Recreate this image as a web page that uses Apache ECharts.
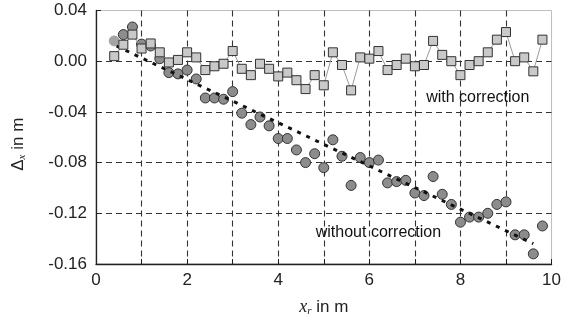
<!DOCTYPE html>
<html>
<head>
<meta charset="utf-8">
<script src="https://cdn.jsdelivr.net/npm/echarts@6/dist/echarts.min.js"></script>
<style>
  html, body { margin: 0; padding: 0; background: #fff; }
  #chart { width: 564px; height: 322px; }
</style>
</head>
<body>
<div id="chart"></div>
<script>
// positions along the rail, x_r in m
const xr = [0.4, 0.6, 0.8, 1.0, 1.2, 1.4, 1.6, 1.8, 2.0, 2.2, 2.4, 2.6, 2.8, 3.0, 3.2, 3.4,
  3.6, 3.8, 4.0, 4.2, 4.4, 4.6, 4.8, 5.0, 5.2, 5.4, 5.6, 5.8, 6.0, 6.2, 6.4, 6.6,
  6.8, 7.0, 7.2, 7.4, 7.6, 7.8, 8.0, 8.2, 8.4, 8.6, 8.8, 9.0, 9.2, 9.4, 9.6, 9.8];

const withCorrection = [0.004, 0.013, 0.021, 0.010, 0.014, 0.007, -0.001, 0.001, 0.007, 0.003,
  -0.007, -0.004, -0.002, 0.008, -0.006, -0.011, -0.002, -0.006, -0.012, -0.009,
  -0.015, -0.022, -0.011, -0.019, 0.007, -0.003, -0.023, 0.003, 0.002, 0.008,
  -0.007, -0.003, 0.002, -0.004, -0.003, 0.016, 0.005, 0.000, -0.011, -0.003,
  0.000, 0.007, 0.017, 0.023, 0.000, 0.003, -0.008, 0.017];

const withoutCorrection = [0.016, 0.021, 0.027, 0.0135, 0.012, 0.002, -0.009, -0.010, -0.007, -0.014,
  -0.029, -0.029, -0.030, -0.024, -0.041, -0.050, -0.044, -0.051, -0.061, -0.061,
  -0.070, -0.080, -0.073, -0.084, -0.062, -0.075, -0.098, -0.076, -0.080, -0.078,
  -0.096, -0.095, -0.094, -0.104, -0.106, -0.091, -0.105, -0.113, -0.127, -0.123,
  -0.123, -0.120, -0.113, -0.111, -0.137, -0.137, -0.152, -0.130];

// dotted trend of the uncorrected error, end points
const trendX = [0.45, 9.6];
const trendY = [0.012, -0.144];

const notes = [
  [8.38, -0.0284, 'with correction'],
  [6.2, -0.135, 'without correction']
];

const font = 'Liberation Sans, Arial, sans-serif';

const chart = echarts.init(document.getElementById('chart'), null, { renderer: 'canvas' });

const circleData = withoutCorrection.map((v, i) => {
  if (i === 0) {
    return { value: [xr[i], v], itemStyle: { color: '#a3a3a3', borderColor: '#a3a3a3' } };
  }
  return [xr[i], v];
});

chart.setOption({
  animation: false,
  grid: {
    left: 96, right: 11, top: 10.5, bottom: 55,
    show: true, borderColor: '#bdbdbd', borderWidth: 1
  },
  xAxis: {
    type: 'value',
    min: 0, max: 10, interval: 1,
    name: '{it|x}{sub|r}{n| in m}',
    nameLocation: 'middle',
    nameGap: 34,
    nameTextStyle: {
      rich: {
        it: { fontFamily: 'Liberation Serif, serif', fontStyle: 'italic', fontSize: 18, color: '#222' },
        sub: { fontFamily: 'Liberation Serif, serif', fontStyle: 'italic', fontSize: 11, color: '#222', padding: [8, 0, 0, 0] },
        n: { fontFamily: font, fontSize: 17, color: '#222' }
      }
    },
    axisLine: { show: true, onZero: false, lineStyle: { color: '#222', width: 1.3 } },
    axisTick: { show: true, inside: true, length: 5, lineStyle: { color: '#222' } },
    axisLabel: {
      fontFamily: font, fontSize: 17, color: '#222', margin: 8,
      formatter: v => (Math.round(v) % 2 === 0 ? String(Math.round(v)) : '')
    },
    splitLine: {
      show: true, showMinLine: false, showMaxLine: false,
      lineStyle: { color: '#333', width: 1.1, type: [6, 4] }
    }
  },
  yAxis: {
    type: 'value',
    min: -0.16, max: 0.04, interval: 0.04,
    name: '{n|Δ}{sub|x}{n| in m}',
    nameLocation: 'middle',
    nameGap: 68,
    nameRotate: 90,
    nameTextStyle: {
      padding: [0, 0, 0, -14],
      rich: {
        n: { fontFamily: font, fontSize: 17, color: '#222' },
        sub: { fontFamily: 'Liberation Serif, serif', fontStyle: 'italic', fontSize: 11, color: '#222', padding: [8, 0, 0, 0] }
      }
    },
    axisLine: { show: true, onZero: false, lineStyle: { color: '#222', width: 1.3 } },
    axisTick: { show: true, inside: true, length: 5, lineStyle: { color: '#222' } },
    axisLabel: {
      fontFamily: font, fontSize: 17, color: '#222', margin: 9,
      formatter: v => (Math.abs(v) < 1e-9 ? '0.00' : v.toFixed(2))
    },
    splitLine: {
      show: true, showMinLine: false, showMaxLine: false,
      lineStyle: { color: '#333', width: 1.1, type: [6, 4] }
    }
  },
  series: [
    {
      name: 'without correction',
      type: 'scatter',
      symbol: 'circle',
      symbolSize: 10,
      itemStyle: { color: '#8c8c8c', borderColor: '#333', borderWidth: 1, opacity: 1 },
      data: circleData,
      z: 2
    },
    {
      name: 'trend',
      type: 'line',
      symbol: 'none',
      lineStyle: { color: '#111', width: 3, type: [4, 6] },
      data: trendX.map((x, i) => [x, trendY[i]]),
      z: 3
    },
    {
      name: 'with correction',
      type: 'line',
      symbol: 'rect',
      symbolSize: 9,
      showAllSymbol: true,
      lineStyle: { color: '#9a9a9a', width: 1 },
      itemStyle: { color: '#c9c9c9', borderColor: '#333', borderWidth: 1 },
      data: withCorrection.map((v, i) => [xr[i], v]),
      z: 4
    },
    {
      name: 'notes',
      type: 'scatter',
      symbolSize: 0,
      silent: true,
      itemStyle: { color: '#000', opacity: 1 },
      data: notes,
      label: {
        show: true,
        position: 'inside',
        formatter: p => p.data[2],
        fontFamily: font,
        fontSize: 16,
        color: '#111',
        textBorderWidth: 0,
        opacity: 1
      },
      z: 5
    }
  ]
});
</script>
</body>
</html>
